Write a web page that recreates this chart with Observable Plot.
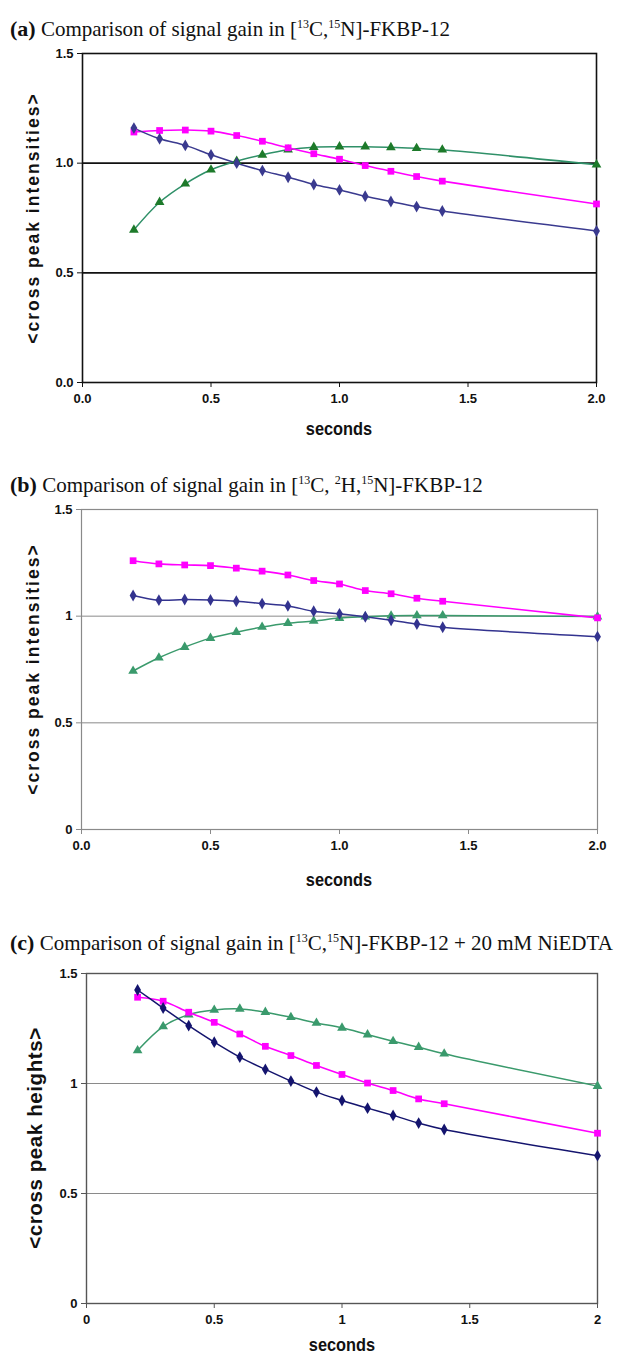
<!DOCTYPE html>
<html>
<head>
<meta charset="utf-8">
<script src="https://cdn.jsdelivr.net/npm/d3@7"></script>
<script src="https://cdn.jsdelivr.net/npm/@observablehq/plot@0.6"></script>
<style>
  html, body { margin: 0; padding: 0; background: #fff; }
  #wrap { position: relative; width: 632px; height: 1356px; overflow: hidden; }
  .title { position: absolute; left: 10px; font-family: "Liberation Serif", "Times New Roman", serif; font-size: 21px; color: #111; white-space: nowrap; }
  .title b { font-size: 22px; }
  .title sup { font-size: 12px; vertical-align: 8px; line-height: 0; }
  .ylab { position: absolute; font-family: "Liberation Sans", Arial, sans-serif; font-weight: bold; color: #111; white-space: nowrap; transform: translate(-50%, -50%) rotate(-90deg); }
  .xlab { position: absolute; font-family: "Liberation Sans Narrow", "Liberation Sans", Arial, sans-serif; font-weight: bold; font-size: 19px; color: #111; transform: translate(-50%, -50%) scaleX(0.86); }
  svg { position: absolute; left: 0; }
  svg text { font-family: "Liberation Sans Narrow", "Liberation Sans", Arial, sans-serif; font-weight: bold; }
</style>
</head>
<body>
<div id="wrap"></div>
<script>
// ---- data ----
const times = [0.2, 0.3, 0.4, 0.5, 0.6, 0.7, 0.8, 0.9, 1.0, 1.1, 1.2, 1.3, 1.4, 2.0];

const aBlue  = [1.160, 1.111, 1.081, 1.038, 1.000, 0.966, 0.936, 0.903, 0.878, 0.849, 0.825, 0.802, 0.782, 0.691];
const aPink  = [1.142, 1.149, 1.151, 1.146, 1.126, 1.100, 1.070, 1.043, 1.018, 0.989, 0.963, 0.939, 0.918, 0.814];
const aGreen = [0.696, 0.822, 0.906, 0.970, 1.009, 1.038, 1.061, 1.073, 1.075, 1.075, 1.072, 1.068, 1.061, 0.993];

const bBlue  = [1.097, 1.075, 1.078, 1.076, 1.070, 1.059, 1.048, 1.023, 1.011, 0.997, 0.981, 0.963, 0.948, 0.904];
const bPink  = [1.260, 1.245, 1.240, 1.237, 1.225, 1.211, 1.193, 1.167, 1.151, 1.120, 1.105, 1.084, 1.070, 0.992];
const bGreen = [0.743, 0.805, 0.855, 0.897, 0.925, 0.949, 0.967, 0.977, 0.991, 0.997, 1.002, 1.003, 1.003, 0.998];

const cBlue  = [1.425, 1.343, 1.263, 1.188, 1.120, 1.064, 1.011, 0.961, 0.923, 0.888, 0.855, 0.820, 0.791, 0.672];
const cPink  = [1.392, 1.374, 1.324, 1.278, 1.225, 1.169, 1.127, 1.082, 1.041, 1.002, 0.968, 0.930, 0.908, 0.774];
const cGreen = [1.150, 1.259, 1.313, 1.334, 1.339, 1.324, 1.301, 1.275, 1.253, 1.222, 1.192, 1.165, 1.135, 0.988];

const xTicks = [0, 0.5, 1, 1.5, 2];
const yTicks = [0, 0.5, 1, 1.5];
const gridVals = [0.5, 1.0];

const panels = [
  { key: "a", titleHTML: '<b>(a)</b> Comparison of signal gain in [<sup>13</sup>C,<sup>15</sup>N]-FKBP-12',
    titleTop: 16, ylabel: "<cross peak intensities>", ylabSize: 17.5, ylabSpacing: "2px", ylabX: 33,
    blue: aBlue, pink: aPink, green: aGreen,
    xFmt: d3.format(".1f"), yFmt: d3.format(".1f"),
    top: 0, height: 445, mt: 53, mb: 63, ml: 82, mr: 36, secY: 429,
    frame: "#111", grid: "#111", gridW: 1.6, frameW: 1.6,
    cBlue: "#3a3a8f", cPink: "#ff00ff", cGreen: "#2f9068", cGreenDot: "#1d7a2a" },
  { key: "b", titleHTML: '<b>(b)</b> Comparison of signal gain in [<sup>13</sup>C, <sup>2</sup>H,<sup>15</sup>N]-FKBP-12',
    titleTop: 472, ylabel: "<cross peak intensities>", ylabSize: 17.5, ylabSpacing: "2px", ylabX: 33,
    blue: bBlue, pink: bPink, green: bGreen,
    xFmt: d3.format(".1f"), yFmt: d => String(d),
    top: 460, height: 440, mt: 49, mb: 71, ml: 81, mr: 35, secY: 880,
    frame: "#8a8a8a", grid: "#8a8a8a", gridW: 1, frameW: 1.2,
    cBlue: "#33338f", cPink: "#ff00ff", cGreen: "#3a9a6c", cGreenDot: "#3a9a6c" },
  { key: "c", titleHTML: '<b>(c)</b> Comparison of signal gain in [<sup>13</sup>C,<sup>15</sup>N]-FKBP-12 + 20 mM NiEDTA',
    titleTop: 930, ylabel: "<cross peak heights>", ylabSize: 20.5, ylabSpacing: "0.6px", ylabX: 35,
    blue: cBlue, pink: cPink, green: cGreen,
    xFmt: d => String(d), yFmt: d => String(d),
    top: 920, height: 436, mt: 53, mb: 53, ml: 86, mr: 35, secY: 1345,
    frame: "#555", grid: "#8a8a8a", gridW: 1, frameW: 1.4,
    cBlue: "#14146e", cPink: "#ff00ff", cGreen: "#3a9a6c", cGreenDot: "#3a9a6c" }
];

const wrap = document.getElementById("wrap");

for (const p of panels) {
  const rows = (vals, s) => times.map((t, i) => ({ t, v: vals[i], s }));
  const blue = rows(p.blue, "blue"), pink = rows(p.pink, "pink"), green = rows(p.green, "green");

  const svg = Plot.plot({
    width: 632, height: p.height,
    marginTop: p.mt, marginBottom: p.mb, marginLeft: p.ml, marginRight: p.mr,
    style: { background: "transparent", overflow: "visible" },
    x: { domain: [0, 2] },
    y: { domain: [0, 1.5] },
    marks: [
      Plot.ruleY(gridVals, { stroke: p.grid, strokeWidth: p.gridW }),
      Plot.frame({ stroke: p.frame, strokeWidth: p.frameW }),
      Plot.axisX(xTicks, { tickFormat: p.xFmt, tickSize: 5, tickPadding: 6, fontSize: 13, stroke: p.frame, label: null, fill: "#111" }),
      Plot.axisY(yTicks, { tickFormat: p.yFmt, tickSize: 5, tickPadding: 4, fontSize: 13, stroke: p.frame, label: null, fill: "#111" }),
      Plot.line(green, { x: "t", y: "v", stroke: p.cGreen, strokeWidth: 1.5, curve: "catmull-rom" }),
      Plot.line(pink, { x: "t", y: "v", stroke: p.cPink, strokeWidth: 1.6, curve: "catmull-rom" }),
      Plot.line(blue, { x: "t", y: "v", stroke: p.cBlue, strokeWidth: 1.5, curve: "catmull-rom" }),
      Plot.dot(green, { x: "t", y: "v", symbol: "triangle", fill: p.cGreenDot, r: 3.6 }),
      Plot.dot(pink, { x: "t", y: "v", symbol: "square", fill: p.cPink, r: 3.8 }),
      Plot.dot(blue, { x: "t", y: "v", symbol: "diamond", fill: p.cBlue, r: 3.6 })
    ]
  });
  svg.style.top = p.top + "px";
  wrap.appendChild(svg);

  const t = document.createElement("div");
  t.className = "title";
  t.style.top = p.titleTop + "px";
  t.innerHTML = p.titleHTML;
  wrap.appendChild(t);

  const plotTop = p.top + p.mt, plotBottom = p.top + p.height - p.mb;
  const yl = document.createElement("div");
  yl.className = "ylab";
  yl.textContent = p.ylabel;
  yl.style.left = p.ylabX + "px";
  yl.style.top = ((plotTop + plotBottom) / 2) + "px";
  yl.style.fontSize = p.ylabSize + "px";
  yl.style.letterSpacing = p.ylabSpacing;
  wrap.appendChild(yl);

  const xl = document.createElement("div");
  xl.className = "xlab";
  xl.textContent = "seconds";
  xl.style.left = (p.ml + (632 - p.mr - p.ml) / 2) + "px";
  xl.style.top = p.secY + "px";
  wrap.appendChild(xl);
}
</script>
</body>
</html>
